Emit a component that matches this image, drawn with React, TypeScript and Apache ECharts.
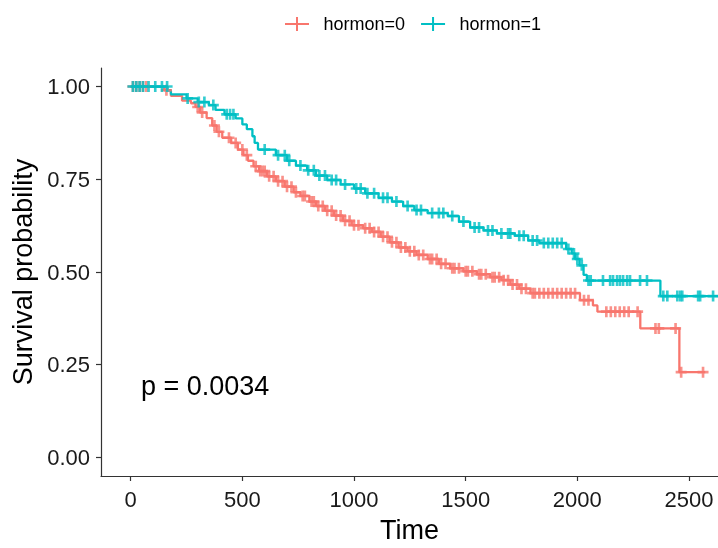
import React, { useEffect, useRef } from "react";
import * as echarts from "echarts";

const groupNames = ["hormon=0", "hormon=1"];
const colors = ["#F8766D", "#00BFC4"];
const xTicks = [0, 500, 1000, 1500, 2000, 2500];
const yTicks = [0, 0.25, 0.5, 0.75, 1];
const pValueText = "p = 0.0034";

// hormon=0 : event times and survival after each drop
const h0Times = [0, 150, 180, 230, 270, 290, 310, 340, 365, 385, 410, 450, 480, 505, 525, 550, 575, 610, 650, 690, 730, 760, 800, 830, 870, 910, 950, 990, 1040, 1080, 1120, 1160, 1200, 1240, 1280, 1330, 1380, 1430, 1490, 1550, 1610, 1660, 1700, 1740, 1790, 2012, 2070, 2090, 2282, 2457];
const h0Surv = [1, 0.99, 0.975, 0.962, 0.955, 0.945, 0.93, 0.915, 0.895, 0.878, 0.862, 0.848, 0.83, 0.815, 0.8, 0.785, 0.772, 0.758, 0.745, 0.73, 0.715, 0.705, 0.69, 0.678, 0.665, 0.652, 0.638, 0.626, 0.618, 0.608, 0.595, 0.58, 0.566, 0.556, 0.546, 0.535, 0.522, 0.51, 0.502, 0.494, 0.486, 0.478, 0.466, 0.455, 0.443, 0.424, 0.41, 0.393, 0.348, 0.23];
const h0End = 2573;
const h0Censor = [10, 25, 40, 55, 70, 160, 300, 320, 375, 395, 440, 470, 500, 520, 560, 580, 590, 600, 620, 640, 660, 680, 700, 720, 740, 770, 780, 810, 820, 840, 860, 880, 900, 920, 940, 960, 980, 1000, 1020, 1050, 1070, 1090, 1110, 1130, 1150, 1170, 1190, 1210, 1230, 1250, 1270, 1290, 1310, 1340, 1350, 1370, 1390, 1410, 1440, 1450, 1470, 1500, 1510, 1530, 1560, 1570, 1590, 1620, 1630, 1650, 1670, 1690, 1710, 1730, 1750, 1770, 1800, 1810, 1830, 1850, 1870, 1890, 1910, 1930, 1950, 1970, 1990, 2030, 2050, 2130, 2150, 2170, 2190, 2210, 2230, 2270, 2350, 2365, 2440, 2465, 2563];

// hormon=1
const h1Times = [0, 165, 180, 250, 300, 350, 380, 420, 470, 500, 520, 545, 555, 570, 650, 700, 740, 790, 830, 880, 940, 1000, 1050, 1110, 1170, 1220, 1270, 1330, 1420, 1470, 1520, 1580, 1640, 1720, 1780, 1830, 1950, 1975, 1990, 2010, 2028, 2043, 2372];
const h1Surv = [1, 0.99, 0.979, 0.968, 0.958, 0.95, 0.937, 0.925, 0.914, 0.898, 0.885, 0.866, 0.848, 0.83, 0.815, 0.8, 0.787, 0.774, 0.76, 0.748, 0.736, 0.725, 0.712, 0.7, 0.69, 0.678, 0.667, 0.659, 0.651, 0.636, 0.62, 0.612, 0.604, 0.598, 0.585, 0.578, 0.562, 0.55, 0.535, 0.518, 0.492, 0.477, 0.435];
const h1End = 2659;
const h1Censor = [10, 25, 40, 55, 80, 110, 140, 163, 255, 305, 330, 370, 430, 445, 460, 600, 660, 690, 710, 760, 795, 820, 845, 870, 900, 920, 960, 1010, 1030, 1060, 1090, 1130, 1150, 1190, 1240, 1280, 1300, 1350, 1380, 1400, 1440, 1490, 1540, 1560, 1600, 1620, 1660, 1690, 1700, 1740, 1760, 1800, 1820, 1850, 1870, 1890, 1910, 1930, 1960, 1985, 2000, 2020, 2050, 2060, 2115, 2147, 2160, 2178, 2191, 2205, 2223, 2236, 2281, 2312, 2385, 2403, 2448, 2461, 2470, 2541, 2550, 2608];

function survAt(times: number[], surv: number[], t: number) {
  let s = surv[0];
  for (let i = 0; i < times.length; i++) if (times[i] <= t) s = surv[i];
  return s;
}
function curve(times: number[], surv: number[], end: number) {
  const d = times.map((t, i) => [t, surv[i]]);
  d.push([end, surv[surv.length - 1]]);
  return d;
}
function censors(times: number[], surv: number[], c: number[]) {
  return c.map((t) => [t, survAt(times, surv, t)]);
}

const PLUS = "path://M3.8,0H6.2V3.8H10V6.2H6.2V10H3.8V6.2H0V3.8H3.8Z";
const LEGEND_ICON = "path://M0,6H11V0H13V6H24V8H13V14H11V8H0Z";
const FONT = "'Liberation Sans', Arial, sans-serif";

export default function App() {
  const ref = useRef<HTMLDivElement>(null);
  useEffect(() => {
    if (!ref.current) return;
    const chart = echarts.init(ref.current, undefined, { renderer: "svg" });
    const axisLine = { show: true, onZero: false, lineStyle: { color: "#333333", width: 1.2 } };
    const axisTick = { show: true, length: 5, lineStyle: { color: "#333333", width: 1.2 } };
    const curves = [curve(h0Times, h0Surv, h0End), curve(h1Times, h1Surv, h1End)];
    const cens = [censors(h0Times, h0Surv, h0Censor), censors(h1Times, h1Surv, h1Censor)];
    chart.setOption({
      animation: false,
      textStyle: { fontFamily: FONT },
      grid: { left: 101, right: 0, top: 68, bottom: 69, containLabel: false },
      legend: {
        left: 280,
        top: 10,
        itemWidth: 25,
        itemHeight: 14,
        itemGap: 16,
        textStyle: { fontSize: 18, color: "#000", fontFamily: FONT, padding: [0, 0, 0, 9] },
        data: groupNames.map((n, i) => ({ name: n, icon: LEGEND_ICON, itemStyle: { color: colors[i] } })),
      },
      xAxis: {
        type: "value",
        min: -133,
        max: 2630,
        name: "Time",
        nameLocation: "middle",
        nameGap: 40,
        nameTextStyle: { fontSize: 27, color: "#000", fontFamily: FONT },
        axisLine,
        axisTick: { ...axisTick, customValues: xTicks },
        axisLabel: {
          customValues: xTicks,
          fontSize: 22,
          color: "#1a1a1a",
          margin: 12,
          fontFamily: FONT,
          formatter: (v: number) => String(v),
        },
        splitLine: { show: false },
      },
      yAxis: {
        type: "value",
        min: -0.05,
        max: 1.05,
        name: "Survival probability",
        nameLocation: "middle",
        nameGap: 60,
        nameTextStyle: { fontSize: 27, color: "#000", fontFamily: FONT },
        axisLine,
        axisTick: { ...axisTick, customValues: yTicks },
        axisLabel: {
          customValues: yTicks,
          fontSize: 22,
          color: "#1a1a1a",
          margin: 11,
          fontFamily: FONT,
          formatter: (v: number) => v.toFixed(2),
        },
        splitLine: { show: false },
      },
      graphic: [
        {
          type: "text",
          left: 141,
          top: 372,
          style: { text: pValueText, fontSize: 27, fill: "#000", font: `27px ${FONT}` },
        },
      ],
      series: [
        ...groupNames.map((n, i) => ({
          name: n,
          type: "line",
          step: "end",
          data: curves[i],
          showSymbol: false,
          symbol: "none",
          lineStyle: { color: colors[i], width: 2.3 },
          itemStyle: { color: colors[i] },
          z: 2,
        })),
        ...groupNames.map((n, i) => ({
          name: n,
          type: "scatter",
          data: cens[i],
          symbol: PLUS,
          symbolSize: 11,
          itemStyle: { color: colors[i] },
          z: 3,
        })),
      ],
    });
    return () => chart.dispose();
  }, []);
  return <div ref={ref} style={{ position: "fixed", left: 0, top: 0, width: 718, height: 548 }} />;
}
